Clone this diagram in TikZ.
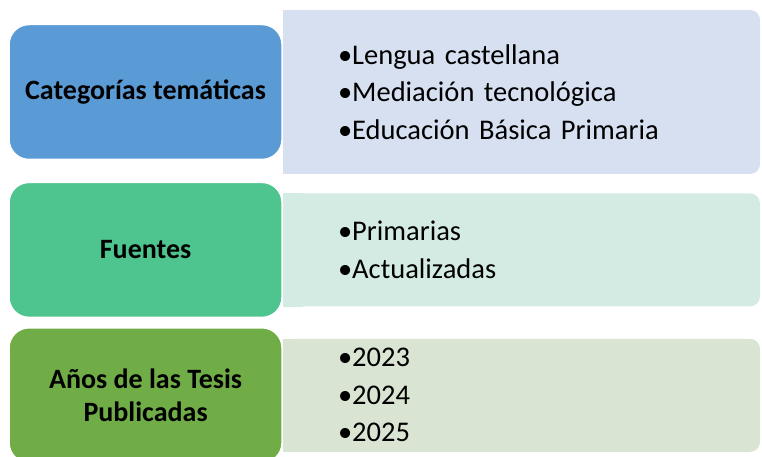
\documentclass[tikz,border=0pt]{standalone}
\usepackage{fontspec}
\setmainfont{Carlito}
\usetikzlibrary{positioning}
\definecolor{catblue}{HTML}{5B9BD5}
\definecolor{fuengreen}{HTML}{4EC48E}
\definecolor{anosgreen}{HTML}{70AD47}
\definecolor{catpale}{HTML}{D6E0F0}
\definecolor{fuenpale}{HTML}{D4EBE3}
\definecolor{anospale}{HTML}{D9E4D3}
\tikzset{
  headbox/.style={rounded corners=20pt, draw=white, line width=1.5pt,
    minimum width=273pt, minimum height=135pt, align=center,
    font=\bfseries\fontsize{28}{32.5}\selectfont},
  itembox/.style={rounded corners=10pt, text width=367pt, inner xsep=55pt,
    align=left, font=\fontsize{28.5}{37.5}\selectfont},
}
\begin{document}
\begin{tikzpicture}[x=1pt,y=-1pt]
  \useasboundingbox (0,0) rectangle (762,457);
  % panels with the items
  \node[itembox, fill=catpale, minimum height=164pt] (catitems) at (521.5,92)
    {•Lengua castellana\\•Mediación tecnológica\\•Educación Básica Primaria};
  \node[itembox, fill=fuenpale, minimum height=113pt] (fuenitems) [below=19pt of catitems]
    {•Primarias\\•Actualizadas};
  \node[itembox, fill=anospale, minimum height=113pt] (anositems) [below=32pt of fuenitems]
    {•2023\\•2024\\•2025};
  % square left edges
  \fill[catpale] (catitems.north west) rectangle ([xshift=20pt]catitems.south west);
  \fill[fuenpale] (fuenitems.north west) rectangle ([xshift=20pt]fuenitems.south west);
  \fill[anospale] (anositems.north west) rectangle ([xshift=20pt]anositems.south west);
  % headings
  \node[headbox, fill=catblue] (cat) [left=0pt of catitems] {Categorías temáticas};
  \node[headbox, fill=fuengreen] (fuen) [left=0pt of fuenitems] {Fuentes};
  \node[headbox, fill=anosgreen] (anos) [left=0pt of anositems] {Años de las Tesis\\Publicadas};
\end{tikzpicture}
\end{document}
